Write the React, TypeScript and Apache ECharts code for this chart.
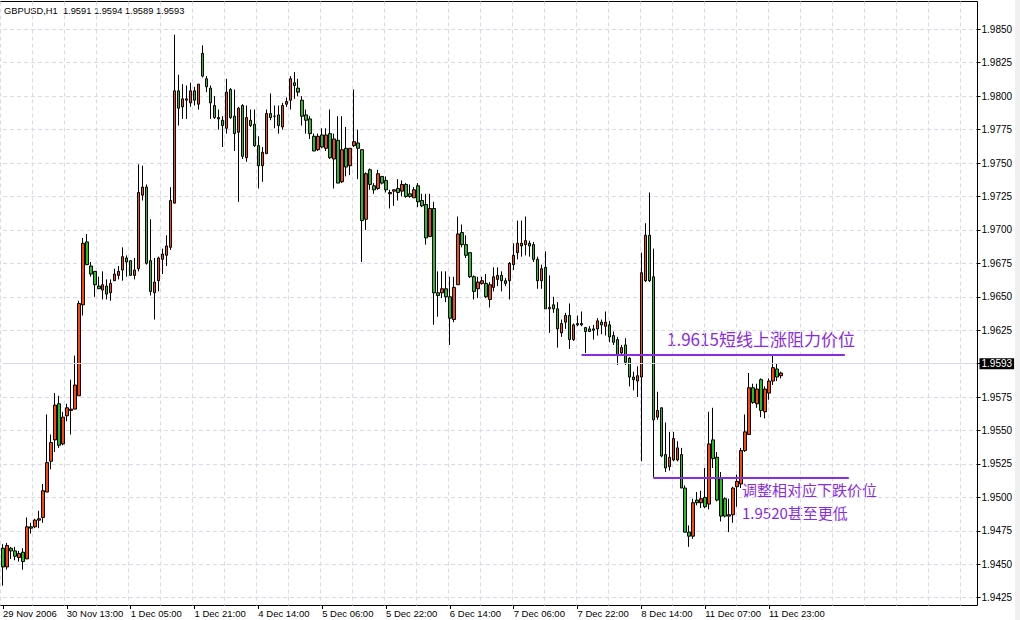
import React, { useEffect, useRef } from 'react';
import * as echarts from 'echarts';

const chartTitle = 'GBPUSD,H1  1.9591 1.9594 1.9589 1.9593';

// time labels shown every 16 hourly bars
const timeLabels = [
  '29 Nov 2006', '30 Nov 13:00', '1 Dec 05:00', '1 Dec 21:00', '4 Dec 14:00',
  '5 Dec 06:00', '5 Dec 22:00', '6 Dec 14:00', '7 Dec 06:00', '7 Dec 22:00',
  '8 Dec 14:00', '11 Dec 07:00', '11 Dec 23:00',
];
const barsPerLabel = 16;
const barsPerGridLine = 8;
const totalSlots = 245; // hourly slots including the empty space on the right

// hourly candles: [open, high, low, close]
const candles: number[][] = [
  [1.9462, 1.9465, 1.9434, 1.9448], [1.9448, 1.9466, 1.9446, 1.9464], [1.9462, 1.9463, 1.9454, 1.9460], [1.9460, 1.9463, 1.9453, 1.9456],
  [1.9455, 1.9460, 1.9452, 1.9458], [1.9459, 1.9462, 1.9446, 1.9452], [1.9454, 1.9485, 1.9454, 1.9478], [1.9478, 1.9481, 1.9473, 1.9477],
  [1.9478, 1.9484, 1.9477, 1.9483], [1.9483, 1.9490, 1.9477, 1.9484], [1.9485, 1.9510, 1.9481, 1.9505], [1.9504, 1.9562, 1.9504, 1.9526],
  [1.9527, 1.9547, 1.9521, 1.9541], [1.9543, 1.9578, 1.9534, 1.9569], [1.9570, 1.9576, 1.9537, 1.9539], [1.9540, 1.9564, 1.9539, 1.9560],
  [1.9561, 1.9570, 1.9557, 1.9567], [1.9565, 1.9588, 1.9547, 1.9566], [1.9566, 1.9606, 1.9566, 1.9584], [1.9576, 1.9647, 1.9576, 1.9645],
  [1.9644, 1.9694, 1.9636, 1.9690], [1.9691, 1.9697, 1.9674, 1.9674], [1.9673, 1.9676, 1.9665, 1.9667], [1.9669, 1.9669, 1.9650, 1.9659],
  [1.9658, 1.9665, 1.9656, 1.9656], [1.9655, 1.9669, 1.9648, 1.9659], [1.9658, 1.9663, 1.9648, 1.9652], [1.9653, 1.9663, 1.9647, 1.9660],
  [1.9662, 1.9671, 1.9662, 1.9667], [1.9666, 1.9673, 1.9663, 1.9669], [1.9670, 1.9687, 1.9662, 1.9680], [1.9679, 1.9681, 1.9665, 1.9676],
  [1.9677, 1.9677, 1.9666, 1.9666], [1.9666, 1.9679, 1.9663, 1.9670], [1.9671, 1.9749, 1.9669, 1.9728], [1.9726, 1.9748, 1.9722, 1.9732],
  [1.9732, 1.9734, 1.9674, 1.9675], [1.9677, 1.9708, 1.9651, 1.9654], [1.9653, 1.9679, 1.9633, 1.9661], [1.9662, 1.9680, 1.9654, 1.9679],
  [1.9678, 1.9686, 1.9667, 1.9682], [1.9681, 1.9696, 1.9673, 1.9688], [1.9687, 1.9732, 1.9685, 1.9722], [1.9720, 1.9846, 1.9720, 1.9804],
  [1.9804, 1.9816, 1.9778, 1.9791], [1.9792, 1.9809, 1.9783, 1.9798], [1.9797, 1.9808, 1.9783, 1.9798], [1.9795, 1.9810, 1.9792, 1.9804],
  [1.9804, 1.9807, 1.9793, 1.9797], [1.9794, 1.9809, 1.9790, 1.9809], [1.9832, 1.9838, 1.9814, 1.9815], [1.9813, 1.9815, 1.9803, 1.9807],
  [1.9806, 1.9808, 1.9783, 1.9795], [1.9793, 1.9800, 1.9783, 1.9784], [1.9784, 1.9790, 1.9775, 1.9783], [1.9782, 1.9785, 1.9762, 1.9778],
  [1.9776, 1.9813, 1.9772, 1.9803], [1.9805, 1.9806, 1.9783, 1.9784], [1.9785, 1.9805, 1.9759, 1.9772], [1.9773, 1.9792, 1.9721, 1.9791],
  [1.9793, 1.9794, 1.9753, 1.9755], [1.9754, 1.9793, 1.9751, 1.9784], [1.9782, 1.9790, 1.9777, 1.9778], [1.9779, 1.9790, 1.9762, 1.9763],
  [1.9763, 1.9770, 1.9731, 1.9748], [1.9748, 1.9762, 1.9736, 1.9758], [1.9757, 1.9790, 1.9757, 1.9787], [1.9787, 1.9802, 1.9782, 1.9784],
  [1.9785, 1.9793, 1.9776, 1.9785], [1.9786, 1.9793, 1.9772, 1.9778], [1.9777, 1.9795, 1.9775, 1.9793], [1.9794, 1.9799, 1.9792, 1.9796],
  [1.9797, 1.9815, 1.9790, 1.9813], [1.9810, 1.9818, 1.9798, 1.9808], [1.9806, 1.9813, 1.9800, 1.9803], [1.9797, 1.9800, 1.9778, 1.9785],
  [1.9786, 1.9790, 1.9772, 1.9782], [1.9783, 1.9785, 1.9768, 1.9772], [1.9770, 1.9772, 1.9759, 1.9759], [1.9760, 1.9772, 1.9759, 1.9770],
  [1.9771, 1.9776, 1.9761, 1.9762], [1.9761, 1.9776, 1.9759, 1.9771], [1.9772, 1.9790, 1.9753, 1.9754], [1.9753, 1.9772, 1.9731, 1.9768],
  [1.9767, 1.9785, 1.9735, 1.9735], [1.9736, 1.9785, 1.9735, 1.9760], [1.9761, 1.9777, 1.9740, 1.9747], [1.9748, 1.9761, 1.9741, 1.9761],
  [1.9763, 1.9805, 1.9762, 1.9766], [1.9765, 1.9775, 1.9738, 1.9761], [1.9760, 1.9760, 1.9676, 1.9707], [1.9708, 1.9743, 1.9700, 1.9742],
  [1.9745, 1.9746, 1.9730, 1.9734], [1.9733, 1.9735, 1.9727, 1.9730], [1.9731, 1.9745, 1.9730, 1.9742], [1.9740, 1.9740, 1.9734, 1.9735],
  [1.9737, 1.9740, 1.9728, 1.9730], [1.9727, 1.9730, 1.9716, 1.9728], [1.9729, 1.9730, 1.9718, 1.9730], [1.9731, 1.9738, 1.9722, 1.9728],
  [1.9729, 1.9737, 1.9725, 1.9734], [1.9734, 1.9735, 1.9724, 1.9725], [1.9727, 1.9734, 1.9724, 1.9725], [1.9724, 1.9732, 1.9724, 1.9730],
  [1.9733, 1.9735, 1.9717, 1.9721], [1.9722, 1.9727, 1.9717, 1.9718], [1.9719, 1.9727, 1.9689, 1.9694], [1.9695, 1.9727, 1.9695, 1.9716],
  [1.9716, 1.9721, 1.9629, 1.9653], [1.9653, 1.9669, 1.9635, 1.9651], [1.9653, 1.9669, 1.9649, 1.9656], [1.9656, 1.9669, 1.9646, 1.9650],
  [1.9650, 1.9665, 1.9614, 1.9634], [1.9633, 1.9665, 1.9631, 1.9657], [1.9659, 1.9710, 1.9659, 1.9697], [1.9698, 1.9704, 1.9687, 1.9689],
  [1.9689, 1.9696, 1.9679, 1.9681], [1.9683, 1.9683, 1.9664, 1.9665], [1.9665, 1.9666, 1.9648, 1.9654], [1.9656, 1.9665, 1.9649, 1.9661],
  [1.9660, 1.9665, 1.9659, 1.9662], [1.9660, 1.9667, 1.9649, 1.9650], [1.9648, 1.9661, 1.9642, 1.9659], [1.9657, 1.9672, 1.9654, 1.9665],
  [1.9663, 1.9672, 1.9658, 1.9666], [1.9666, 1.9669, 1.9654, 1.9662], [1.9662, 1.9664, 1.9658, 1.9660], [1.9662, 1.9676, 1.9648, 1.9675],
  [1.9674, 1.9690, 1.9670, 1.9681], [1.9683, 1.9707, 1.9678, 1.9690], [1.9688, 1.9707, 1.9680, 1.9690], [1.9689, 1.9710, 1.9681, 1.9692],
  [1.9690, 1.9692, 1.9680, 1.9688], [1.9689, 1.9691, 1.9676, 1.9678], [1.9678, 1.9680, 1.9656, 1.9662], [1.9662, 1.9674, 1.9656, 1.9671],
  [1.9672, 1.9684, 1.9641, 1.9641], [1.9641, 1.9666, 1.9623, 1.9642], [1.9644, 1.9650, 1.9638, 1.9641], [1.9641, 1.9646, 1.9612, 1.9626],
  [1.9623, 1.9633, 1.9620, 1.9630], [1.9631, 1.9638, 1.9626, 1.9636], [1.9636, 1.9645, 1.9611, 1.9618], [1.9618, 1.9630, 1.9617, 1.9629],
  [1.9629, 1.9636, 1.9628, 1.9630], [1.9630, 1.9639, 1.9628, 1.9629], [1.9627, 1.9627, 1.9608, 1.9624], [1.9626, 1.9628, 1.9624, 1.9624],
  [1.9626, 1.9629, 1.9618, 1.9625], [1.9626, 1.9634, 1.9621, 1.9632], [1.9631, 1.9633, 1.9622, 1.9629], [1.9628, 1.9639, 1.9621, 1.9631],
  [1.9629, 1.9632, 1.9616, 1.9620], [1.9621, 1.9624, 1.9614, 1.9616], [1.9618, 1.9620, 1.9599, 1.9606], [1.9608, 1.9614, 1.9606, 1.9612],
  [1.9614, 1.9619, 1.9599, 1.9601], [1.9604, 1.9605, 1.9583, 1.9590], [1.9590, 1.9594, 1.9580, 1.9588], [1.9587, 1.9598, 1.9575, 1.9591],
  [1.9590, 1.9683, 1.9527, 1.9668], [1.9662, 1.9705, 1.9661, 1.9696], [1.9696, 1.9728, 1.9661, 1.9662], [1.9665, 1.9686, 1.9515, 1.9558],
  [1.9560, 1.9579, 1.9558, 1.9565], [1.9567, 1.9567, 1.9530, 1.9531], [1.9532, 1.9556, 1.9519, 1.9522], [1.9523, 1.9549, 1.9520, 1.9530],
  [1.9528, 1.9549, 1.9527, 1.9544], [1.9528, 1.9542, 1.9527, 1.9537], [1.9532, 1.9537, 1.9507, 1.9507], [1.9507, 1.9509, 1.9474, 1.9474],
  [1.9474, 1.9479, 1.9463, 1.9471], [1.9471, 1.9499, 1.9469, 1.9496], [1.9498, 1.9504, 1.9494, 1.9496], [1.9496, 1.9505, 1.9492, 1.9499],
  [1.9500, 1.9522, 1.9492, 1.9493], [1.9495, 1.9564, 1.9491, 1.9540], [1.9543, 1.9567, 1.9522, 1.9529], [1.9530, 1.9534, 1.9497, 1.9498],
  [1.9514, 1.9519, 1.9482, 1.9486], [1.9499, 1.9500, 1.9485, 1.9486], [1.9486, 1.9499, 1.9474, 1.9487], [1.9487, 1.9508, 1.9481, 1.9507],
  [1.9508, 1.9517, 1.9493, 1.9512], [1.9510, 1.9537, 1.9507, 1.9535], [1.9535, 1.9562, 1.9534, 1.9549], [1.9547, 1.9593, 1.9547, 1.9582],
  [1.9582, 1.9585, 1.9570, 1.9571], [1.9570, 1.9585, 1.9567, 1.9581], [1.9588, 1.9589, 1.9560, 1.9565], [1.9564, 1.9583, 1.9559, 1.9581],
  [1.9578, 1.9589, 1.9573, 1.9587], [1.9587, 1.9606, 1.9584, 1.9597], [1.9596, 1.9600, 1.9587, 1.9590], [1.9591, 1.9594, 1.9589, 1.9593],
];

const priceMin = 1.9425;
const priceMax = 1.985;
const priceStep = 0.0025;
const lastPrice = 1.9593;

// hand-drawn annotation lines (price level, first and last hourly slot)
const resistanceLine = { price: 1.9607, from: 145, to: 211 };
const supportLine = { price: 1.9515, from: 163, to: 212 };
const resistanceNote = '1.9615短线上涨阻力价位';
const supportNotes = ['调整相对应下跌价位', '1.9520甚至更低'];

const UP = '#FF4500';
const DOWN = '#1FC41F';
const GRID = '#D8D8F4';
const NOTE = '#8A2BE2';
const FONT = 'Liberation Sans, Arial, sans-serif';
const CJK = 'Noto Sans CJK SC';

export default function App() {
  const ref = useRef<HTMLDivElement>(null);

  useEffect(() => {
    document.body.style.margin = '0';
    const chart = echarts.init(ref.current!, undefined, { renderer: 'svg' });
    const cats = Array.from({ length: totalSlots }, (_, i) => String(i));
    const seriesData = candles.map(([o, h, l, c]) => [o, c, l, h]);
    const labelled = (i: number) => i % barsPerLabel === 0 && i / barsPerLabel < timeLabels.length;

    chart.setOption({
      animation: false,
      backgroundColor: '#ffffff',
      grid: [
        { left: 0.5, right: 43.5, top: 29.3, bottom: 22.3 },
        { left: 0.5, right: 43.5, top: 1.5, bottom: 14.5 },
      ],
      xAxis: [
        {
          type: 'category', gridIndex: 0, data: cats, boundaryGap: false, min: 0, max: totalSlots - 1,
          offset: 7.3,
          axisLine: { show: false },
          axisTick: { show: true, length: 4, interval: (i: number) => labelled(i), lineStyle: { color: '#000' } },
          axisLabel: {
            show: true, interval: (i: number) => labelled(i), align: 'left', margin: 3,
            fontSize: 9.5, color: '#000', fontFamily: FONT,
            formatter: (v: string) => { const i = Number(v); return labelled(i) ? timeLabels[i / barsPerLabel] : ''; },
          },
          splitLine: { show: false },
        },
        {
          type: 'category', gridIndex: 1, data: cats, boundaryGap: false, min: 0, max: totalSlots - 1,
          axisLine: { show: false }, axisTick: { show: false }, axisLabel: { show: false },
          splitLine: { show: true, interval: barsPerGridLine - 1, lineStyle: { color: GRID, type: [4, 3], width: 1 } },
        },
      ],
      yAxis: [
        {
          type: 'value', gridIndex: 0, position: 'right', min: priceMin, max: priceMax, interval: priceStep,
          axisLine: { show: false },
          axisTick: { show: true, length: 4, lineStyle: { color: '#000' } },
          axisLabel: { margin: 5, fontSize: 10, color: '#000', fontFamily: FONT, formatter: (v: number) => v.toFixed(4) },
          splitLine: { show: true, lineStyle: { color: GRID, type: [4, 3], width: 1 } },
        },
        { type: 'value', gridIndex: 1, show: false, min: 0, max: 1 },
      ],
      series: [
        {
          type: 'candlestick', xAxisIndex: 0, yAxisIndex: 0, data: seriesData,
          barWidth: 3,
          itemStyle: { color: UP, color0: DOWN, borderColor: '#000', borderColor0: '#000', borderColorDoji: '#000', borderWidth: 1 },
          markLine: {
            silent: true, symbol: ['none', 'none'], animation: false,
            data: [
              {
                yAxis: lastPrice,
                lineStyle: { color: '#D6D6EC', type: 'solid', width: 1 },
                label: {
                  show: true, position: 'end', distance: 3, formatter: lastPrice.toFixed(4),
                  backgroundColor: '#000', color: '#fff', fontSize: 10, fontFamily: FONT, padding: [1, 2, 0, 2],
                },
              },
              [
                { coord: [resistanceLine.from, resistanceLine.price], lineStyle: { color: NOTE, type: 'solid', width: 2 }, label: { show: false } },
                { coord: [resistanceLine.to, resistanceLine.price] },
              ],
              [
                { coord: [supportLine.from, supportLine.price], lineStyle: { color: NOTE, type: 'solid', width: 2 }, label: { show: false } },
                { coord: [supportLine.to, supportLine.price] },
              ],
            ],
          },
        },
      ],
      graphic: [
        { type: 'rect', shape: { x: 1015, y: 0, width: 5, height: 620 }, style: { fill: '#F0F0F0' }, silent: true },
        { type: 'line', shape: { x1: 0, y1: 1.5, x2: 977.5, y2: 1.5 }, style: { stroke: '#000', lineWidth: 1 }, silent: true },
        { type: 'line', shape: { x1: 977.5, y1: 1.5, x2: 977.5, y2: 605.5 }, style: { stroke: '#000', lineWidth: 1 }, silent: true },
        { type: 'line', shape: { x1: 0, y1: 605.5, x2: 977.5, y2: 605.5 }, style: { stroke: '#000', lineWidth: 1 }, silent: true },
        {
          type: 'text', x: 4, y: 11, silent: true,
          style: { text: chartTitle, fill: '#000', fontSize: 9.3, fontFamily: FONT, verticalAlign: 'middle', textVerticalAlign: 'middle' },
        },
        {
          type: 'text', x: 667, y: 338, silent: true,
          style: { text: resistanceNote, fill: NOTE, fontSize: 17, fontFamily: CJK, verticalAlign: 'middle', textVerticalAlign: 'middle' },
        },
        {
          type: 'text', x: 742, y: 489, silent: true,
          style: { text: supportNotes[0], fill: NOTE, fontSize: 15, fontFamily: CJK, verticalAlign: 'middle', textVerticalAlign: 'middle' },
        },
        {
          type: 'text', x: 742, y: 512, silent: true,
          style: { text: supportNotes[1], fill: NOTE, fontSize: 15, fontFamily: CJK, verticalAlign: 'middle', textVerticalAlign: 'middle' },
        },
      ],
    });

    return () => chart.dispose();
  }, []);

  return <div ref={ref} style={{ position: 'fixed', left: 0, top: 0, width: 1020, height: 620 }} />;
}
